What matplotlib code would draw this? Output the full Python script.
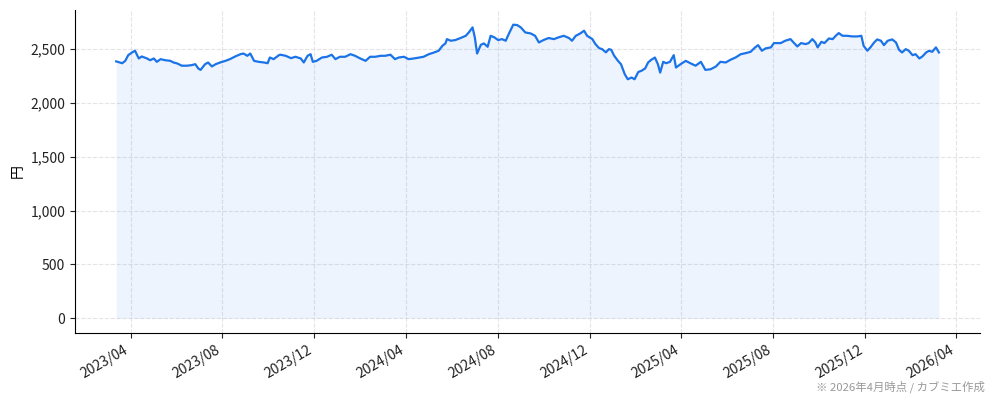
import matplotlib
matplotlib.use("Agg")
import matplotlib.pyplot as plt
import matplotlib.dates as mdates
import matplotlib.ticker as mticker
import pandas as pd

plt.rcParams['font.family'] = ['Noto Sans CJK JP', 'DejaVu Sans']

# 株価 (円)
dates = [
    "2023-03-13", "2023-03-21", "2023-03-25", "2023-03-29", "2023-04-03", "2023-04-07",
    "2023-04-12", "2023-04-16", "2023-04-23", "2023-04-27", "2023-05-02", "2023-05-06",
    "2023-05-11", "2023-05-17", "2023-05-24", "2023-05-28", "2023-06-02", "2023-06-08",
    "2023-06-15", "2023-06-21", "2023-06-26", "2023-06-30", "2023-07-03", "2023-07-09",
    "2023-07-13", "2023-07-18", "2023-07-23", "2023-07-29", "2023-08-05", "2023-08-11",
    "2023-08-18", "2023-08-25", "2023-08-29", "2023-09-03", "2023-09-07", "2023-09-12",
    "2023-09-18", "2023-09-25", "2023-09-30", "2023-10-03", "2023-10-08", "2023-10-15",
    "2023-10-17", "2023-10-24", "2023-10-31", "2023-11-06", "2023-11-13", "2023-11-17",
    "2023-11-22", "2023-11-26", "2023-11-29", "2023-12-04", "2023-12-11", "2023-12-18",
    "2023-12-24", "2023-12-29", "2024-01-04", "2024-01-11", "2024-01-18", "2024-01-24",
    "2024-01-31", "2024-02-07", "2024-02-13", "2024-02-20", "2024-02-27", "2024-03-04",
    "2024-03-11", "2024-03-17", "2024-03-22", "2024-03-29", "2024-04-04", "2024-04-11",
    "2024-04-18", "2024-04-24", "2024-05-01", "2024-05-08", "2024-05-14", "2024-05-19",
    "2024-05-23", "2024-05-25", "2024-05-30", "2024-06-05", "2024-06-12", "2024-06-19",
    "2024-06-23", "2024-06-28", "2024-07-01", "2024-07-04", "2024-07-09", "2024-07-13",
    "2024-07-18", "2024-07-22", "2024-07-27", "2024-08-01", "2024-08-06", "2024-08-11",
    "2024-08-15", "2024-08-21", "2024-08-26", "2024-08-31", "2024-09-06", "2024-09-13",
    "2024-09-19", "2024-09-24", "2024-09-30", "2024-10-07", "2024-10-14", "2024-10-20",
    "2024-10-27", "2024-11-03", "2024-11-07", "2024-11-12", "2024-11-18", "2024-11-23",
    "2024-11-27", "2024-12-04", "2024-12-08", "2024-12-13", "2024-12-17", "2024-12-22",
    "2024-12-26", "2024-12-29", "2025-01-02", "2025-01-07", "2025-01-11", "2025-01-16",
    "2025-01-20", "2025-01-25", "2025-01-29", "2025-02-03", "2025-02-07", "2025-02-12",
    "2025-02-16", "2025-02-20", "2025-02-25", "2025-03-01", "2025-03-04", "2025-03-08",
    "2025-03-12", "2025-03-17", "2025-03-22", "2025-03-25", "2025-03-31", "2025-04-07",
    "2025-04-13", "2025-04-20", "2025-04-27", "2025-05-03", "2025-05-10", "2025-05-17",
    "2025-05-23", "2025-05-30", "2025-06-05", "2025-06-12", "2025-06-19", "2025-06-25",
    "2025-07-02", "2025-07-08", "2025-07-12", "2025-07-17", "2025-07-22", "2025-07-29",
    "2025-08-02", "2025-08-04", "2025-08-11", "2025-08-17", "2025-08-24", "2025-08-28",
    "2025-09-02", "2025-09-07", "2025-09-13", "2025-09-17", "2025-09-22", "2025-09-26",
    "2025-09-29", "2025-10-04", "2025-10-08", "2025-10-14", "2025-10-19", "2025-10-23",
    "2025-10-27", "2025-11-01", "2025-11-07", "2025-11-14", "2025-11-21", "2025-11-26",
    "2025-11-29", "2025-12-04", "2025-12-08", "2025-12-13", "2025-12-17", "2025-12-22",
    "2025-12-26", "2025-12-31", "2026-01-06", "2026-01-11", "2026-01-15", "2026-01-19",
    "2026-01-24", "2026-01-28", "2026-02-02", "2026-02-06", "2026-02-11", "2026-02-15",
    "2026-02-20", "2026-02-24", "2026-02-28", "2026-03-05", "2026-03-09",
]
prices = [
    2386, 2369, 2391, 2444, 2469, 2485,
    2413, 2432, 2413, 2397, 2413, 2382,
    2407, 2397, 2391, 2376, 2367, 2346,
    2346, 2351, 2360, 2320, 2307, 2360,
    2376, 2339, 2360, 2376, 2391, 2407,
    2432, 2453, 2459, 2438, 2459, 2391,
    2382, 2376, 2369, 2422, 2407, 2444,
    2448, 2438, 2416, 2429, 2413, 2376,
    2438, 2453, 2382, 2391, 2422, 2429,
    2448, 2407, 2429, 2429, 2453, 2438,
    2413, 2391, 2429, 2429, 2438, 2438,
    2448, 2407, 2422, 2429, 2407, 2413,
    2422, 2429, 2453, 2469, 2485, 2531,
    2553, 2593, 2578, 2584, 2603, 2624,
    2655, 2702, 2609, 2459, 2540, 2553,
    2522, 2624, 2609, 2584, 2593, 2578,
    2640, 2727, 2724, 2702, 2655, 2646,
    2624, 2562, 2584, 2603, 2593, 2609,
    2624, 2603, 2578, 2624, 2646, 2671,
    2624, 2593, 2547, 2509, 2500, 2470,
    2500, 2494, 2438, 2391, 2360, 2267,
    2220, 2236, 2220, 2288, 2298, 2320,
    2376, 2400, 2422, 2360, 2282, 2382,
    2369, 2382, 2444, 2329, 2360, 2391,
    2369, 2346, 2382, 2307, 2313, 2339,
    2382, 2376, 2400, 2422, 2453, 2462,
    2475, 2516, 2537, 2485, 2507, 2516,
    2556, 2556, 2556, 2578, 2593, 2562,
    2525, 2556, 2547, 2556, 2593, 2562,
    2516, 2568, 2556, 2599, 2593, 2624,
    2649, 2624, 2624, 2618, 2618, 2624,
    2531, 2485, 2516, 2562, 2590, 2578,
    2537, 2578, 2590, 2562, 2494, 2469,
    2500, 2485, 2444, 2453, 2413, 2432,
    2469, 2485, 2475, 2516, 2469,
]

x = pd.to_datetime(dates)

fig, ax = plt.subplots(figsize=(9.94, 4.01), dpi=100)

ax.plot(x, prices, color='#1a73e8', linewidth=1.6)
ax.fill_between(x, prices, 0, color='#1a73e8', alpha=0.08, linewidth=0)

ax.xaxis.set_major_locator(mdates.MonthLocator(bymonth=[4, 8, 12]))
ax.xaxis.set_major_formatter(mdates.DateFormatter('%Y/%m'))
ax.yaxis.set_major_formatter(mticker.FuncFormatter(lambda v, p: f'{v:,.0f}'))

ax.grid(True, linestyle='--', color='#dcdce3', linewidth=0.8, alpha=0.8)
ax.set_axisbelow(True)
ax.spines['top'].set_visible(False)
ax.spines['right'].set_visible(False)
ax.tick_params(labelsize=10, colors='#222222')
ax.set_ylabel('円', fontsize=10)

fig.autofmt_xdate()
fig.subplots_adjust(left=0.0755, right=0.986, top=0.975, bottom=0.170)

fig.text(0.991, 0.035, '※ 2026年4月時点 / カブミエ作成', ha='right', va='center',
         fontsize=8.2, color='#999999')

fig.savefig('out.png', dpi=100)
